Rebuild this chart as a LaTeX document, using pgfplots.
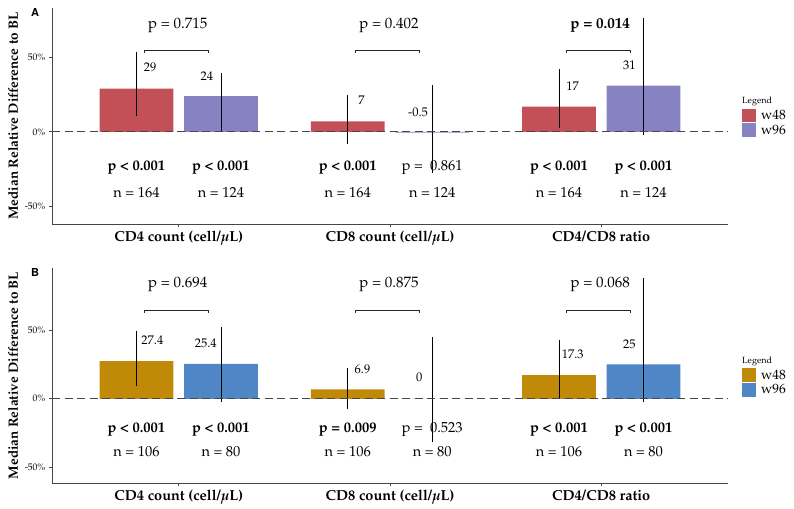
\documentclass[border=0pt]{standalone}
\usepackage[T1]{fontenc}
\usepackage{mathpazo}
\usepackage{pgfplots}
\usepackage{pgfplotstable}
\pgfplotsset{compat=1.18}

\definecolor{redA}{RGB}{194,80,86}
\definecolor{purA}{RGB}{135,131,195}
\definecolor{goldB}{RGB}{192,138,8}
\definecolor{bluB}{RGB}{79,134,198}
\definecolor{axgray}{RGB}{70,70,70}

% bar position, median, upper and lower whisker lengths
% panel A
\pgfplotstableread{
x y ep em
0.8 29 24.2 18.3
1.8 7 17.4 15
2.8 17 25.3 14.1
}\aW
\pgfplotstableread{
x y ep em
1.2 24 15.4 24
2.2 -0.5 32 27.2
3.2 31 45.3 33
}\aV
% panel B
\pgfplotstableread{
x y ep em
0.8 27.4 22.3 17.9
1.8 6.9 15.4 14.4
2.8 17.3 25.6 16.8
}\bW
\pgfplotstableread{
x y ep em
1.2 25.4 26.8 28.1
2.2 0 44.9 31.8
3.2 25 62.8 27.7
}\bV

\newcommand{\fs}[1]{\fontsize{#1}{#1}\selectfont}

\tikzset{
  zeroline/.style={axgray, line width=1.1pt, dash pattern=on 8pt off 4.5pt},
  brk/.style={black!85, line width=1pt},
}
\pgfplotsset{
  panel/.style={
    scale only axis, width=676pt, anchor=south west,
    xmin=0.4, xmax=3.6,
    axis x line*=bottom, axis y line*=left,
    axis line style={axgray, line width=1pt},
    tick style={axgray, line width=0.8pt}, tick align=outside, major tick length=3pt,
    xtick={1,2,3},
    xticklabels={{CD4 count (cell/$\mu$L)},{CD8 count (cell/$\mu$L)},{CD4/CD8 ratio}},
    xticklabel style={font=\fs{14.5}\bfseries\boldmath},
    ytick={-50,0,50}, yticklabels={-50\%,0\%,50\%},
    yticklabel style={font=\fs{9.5}},
    ylabel={Median Relative Difference to BL},
    every axis y label/.style={at={(axis description cs:0,0.5)}, xshift=-39pt, rotate=90, anchor=center, font=\fs{13.5}\bfseries},
    clip=false,
    legend style={at={(axis description cs:1,0.5)}, anchor=west, xshift=14pt, yshift=-7pt,
      draw=none, fill=none, inner sep=0pt, row sep=1pt, font=\fs{13.5},
      nodes={inner sep=1pt},
      /tikz/every odd column/.append style={column sep=4pt}},
    legend cell align=left,
  },
  bar/.style={ybar, bar width=0.35, bar shift=0, draw=none, fill=#1,
    legend image code/.code={\fill[#1] (0pt,-6.8pt) rectangle (14pt,6.8pt);},
    error bars/y dir=both, error bars/y explicit, error bars/error mark=none,
    error bars/error bar style={black, line width=0.9pt}},
}

\begin{document}
\begin{tikzpicture}

% ---------------- panel A ----------------
\begin{axis}[panel, at={(52pt,-224pt)}, height=216pt, ymin=-61.7, ymax=83,
  legend style={name=legA}]
\addplot[bar=redA] table[x=x, y=y, y error plus=ep, y error minus=em] {\aW};
\addlegendentry{w48}
\addplot[bar=purA] table[x=x, y=y, y error plus=ep, y error minus=em] {\aV};
\addlegendentry{w96}
\draw[zeroline] (axis cs:0.4,0) -- (axis cs:3.6,0);
% comparison brackets
\draw[brk] (axis cs:0.836,53.1) -- (axis cs:0.836,54.4) -- (axis cs:1.14,54.4) -- (axis cs:1.14,53.1);
\draw[brk] (axis cs:1.836,53.1) -- (axis cs:1.836,54.4) -- (axis cs:2.14,54.4) -- (axis cs:2.14,53.1);
\draw[brk] (axis cs:2.836,53.1) -- (axis cs:2.836,54.4) -- (axis cs:3.14,54.4) -- (axis cs:3.14,53.1);
\node[font=\fs{15}] at (axis cs:0.995,71.3) {p = 0.715};
\node[font=\fs{15}] at (axis cs:1.995,71.3) {p = 0.402};
\node[font=\fs{15}\bfseries] at (axis cs:2.995,71.3) {p = 0.014};
% values
\node[font=\fs{12.5}] at (axis cs:0.865,43) {29};
\node[font=\fs{12.5}] at (axis cs:1.133,37.6) {24};
\node[font=\fs{12.5}] at (axis cs:1.865,21) {7};
\node[font=\fs{12.5}] at (axis cs:2.133,13) {-0.5};
\node[font=\fs{12.5}] at (axis cs:2.865,30.9) {17};
\node[font=\fs{12.5}] at (axis cs:3.133,44.8) {31};
% p and n under bars
\node[font=\fs{14.5}\bfseries] at (axis cs:0.8,-23.9) {p < 0.001};
\node[font=\fs{14.5}\bfseries] at (axis cs:1.2,-23.9) {p < 0.001};
\node[font=\fs{14.5}\bfseries] at (axis cs:1.8,-23.9) {p < 0.001};
\node[font=\fs{14.5}] at (axis cs:2.2,-23.9) {p =~~0.861};
\node[font=\fs{14.5}\bfseries] at (axis cs:2.8,-23.9) {p < 0.001};
\node[font=\fs{14.5}\bfseries] at (axis cs:3.2,-23.9) {p < 0.001};
\node[font=\fs{14.5}] at (axis cs:0.8,-40.5) {n = 164};
\node[font=\fs{14.5}] at (axis cs:1.2,-40.5) {n = 124};
\node[font=\fs{14.5}] at (axis cs:1.8,-40.5) {n = 164};
\node[font=\fs{14.5}] at (axis cs:2.2,-40.5) {n = 124};
\node[font=\fs{14.5}] at (axis cs:2.8,-40.5) {n = 164};
\node[font=\fs{14.5}] at (axis cs:3.2,-40.5) {n = 124};
\node[font=\fs{11}\fontfamily{phv}\bfseries\selectfont] at (axis description cs:-0.025,0.977) {A};
\end{axis}
\node[anchor=south west, inner sep=0pt, font=\fs{9}] at ([yshift=2pt]legA.north west) {Legend};

% ---------------- panel B ----------------
\begin{axis}[panel, at={(52pt,-483pt)}, height=215pt, ymin=-61.4, ymax=95.3,
  legend style={name=legB}]
\addplot[bar=goldB] table[x=x, y=y, y error plus=ep, y error minus=em] {\bW};
\addlegendentry{w48}
\addplot[bar=bluB] table[x=x, y=y, y error plus=ep, y error minus=em] {\bV};
\addlegendentry{w96}
\draw[zeroline] (axis cs:0.4,0) -- (axis cs:3.6,0);
\draw[brk] (axis cs:0.836,62.8) -- (axis cs:0.836,64.3) -- (axis cs:1.14,64.3) -- (axis cs:1.14,62.8);
\draw[brk] (axis cs:1.836,62.8) -- (axis cs:1.836,64.3) -- (axis cs:2.14,64.3) -- (axis cs:2.14,62.8);
\draw[brk] (axis cs:2.836,62.8) -- (axis cs:2.836,64.3) -- (axis cs:3.14,64.3) -- (axis cs:3.14,62.8);
\node[font=\fs{15}] at (axis cs:0.995,83.2) {p = 0.694};
\node[font=\fs{15}] at (axis cs:1.995,83.2) {p = 0.875};
\node[font=\fs{15}] at (axis cs:2.995,83.2) {p = 0.068};
\node[font=\fs{12.5}] at (axis cs:0.875,42.4) {27.4};
\node[font=\fs{12.5}] at (axis cs:1.128,40.5) {25.4};
\node[font=\fs{12.5}] at (axis cs:1.87,21.8) {6.9};
\node[font=\fs{12.5}] at (axis cs:2.138,15.5) {0};
\node[font=\fs{12.5}] at (axis cs:2.865,32.5) {17.3};
\node[font=\fs{12.5}] at (axis cs:3.133,40) {25};
\node[font=\fs{14.5}\bfseries] at (axis cs:0.8,-22.6) {p < 0.001};
\node[font=\fs{14.5}\bfseries] at (axis cs:1.2,-22.6) {p < 0.001};
\node[font=\fs{14.5}\bfseries] at (axis cs:1.8,-22.6) {p = 0.009};
\node[font=\fs{14.5}] at (axis cs:2.2,-22.6) {p =~~0.523};
\node[font=\fs{14.5}\bfseries] at (axis cs:2.8,-22.6) {p < 0.001};
\node[font=\fs{14.5}\bfseries] at (axis cs:3.2,-22.6) {p < 0.001};
\node[font=\fs{14.5}] at (axis cs:0.8,-38.4) {n = 106};
\node[font=\fs{14.5}] at (axis cs:1.2,-38.4) {n = 80};
\node[font=\fs{14.5}] at (axis cs:1.8,-38.4) {n = 106};
\node[font=\fs{14.5}] at (axis cs:2.2,-38.4) {n = 80};
\node[font=\fs{14.5}] at (axis cs:2.8,-38.4) {n = 106};
\node[font=\fs{14.5}] at (axis cs:3.2,-38.4) {n = 80};
\node[font=\fs{11}\fontfamily{phv}\bfseries\selectfont] at (axis description cs:-0.025,0.978) {B};
\end{axis}
\node[anchor=south west, inner sep=0pt, font=\fs{9}] at ([yshift=2pt]legB.north west) {Legend};

\pgfresetboundingbox
\path (0pt,0pt) rectangle (794pt,-508pt);
\end{tikzpicture}
\end{document}
